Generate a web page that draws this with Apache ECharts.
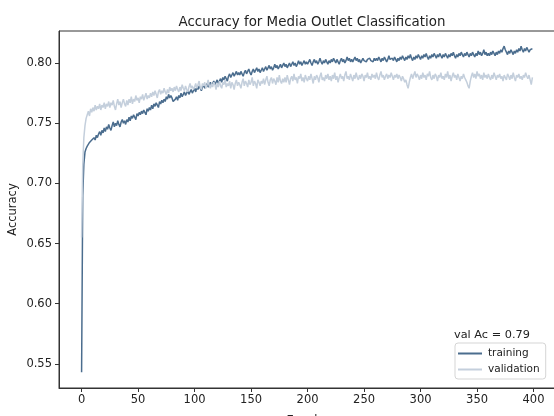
<!DOCTYPE html>
<html>
<head>
<meta charset="utf-8">
<script src="https://cdn.jsdelivr.net/npm/echarts@6/dist/echarts.min.js"></script>
<style>
  html, body { margin: 0; padding: 0; background: #fff; }
  #chart { width: 554px; height: 416px; }
</style>
</head>
<body>
<div id="chart"></div>
<script>
// accuracy per epoch (0..399)
const training = [
  0.543, 0.690, 0.716, 0.726, 0.729, 0.731, 0.730, 0.734, 0.733, 0.736, 0.735, 0.738, 0.736, 0.740, 0.738, 0.741, 0.743, 0.740, 0.744, 0.742,
  0.746, 0.743, 0.747, 0.745, 0.749, 0.746, 0.744, 0.748, 0.751, 0.747, 0.750, 0.748, 0.752, 0.749, 0.747, 0.751, 0.753, 0.750, 0.752, 0.749,
  0.753, 0.751, 0.755, 0.752, 0.756, 0.754, 0.757, 0.755, 0.753, 0.758, 0.756, 0.759, 0.757, 0.760, 0.758, 0.761, 0.759, 0.757, 0.762, 0.760,
  0.763, 0.761, 0.765, 0.762, 0.766, 0.764, 0.767, 0.765, 0.763, 0.768, 0.766, 0.769, 0.767, 0.770, 0.768, 0.772, 0.770, 0.774, 0.771, 0.773,
  0.771, 0.768, 0.767, 0.770, 0.772, 0.769, 0.773, 0.771, 0.775, 0.772, 0.774, 0.776, 0.773, 0.775, 0.777, 0.774, 0.776, 0.778, 0.775, 0.777,
  0.779, 0.776, 0.780, 0.778, 0.781, 0.779, 0.777, 0.780, 0.782, 0.779, 0.781, 0.783, 0.780, 0.782, 0.784, 0.781, 0.783, 0.785, 0.782, 0.784,
  0.786, 0.783, 0.785, 0.787, 0.784, 0.788, 0.786, 0.789, 0.787, 0.785, 0.789, 0.791, 0.788, 0.790, 0.792, 0.789, 0.791, 0.793, 0.790, 0.792,
  0.790, 0.793, 0.791, 0.789, 0.792, 0.794, 0.791, 0.793, 0.795, 0.792, 0.790, 0.793, 0.795, 0.792, 0.794, 0.796, 0.793, 0.795, 0.792, 0.794,
  0.796, 0.793, 0.795, 0.797, 0.794, 0.796, 0.798, 0.795, 0.797, 0.794, 0.796, 0.799, 0.796, 0.798, 0.795, 0.797, 0.799, 0.796, 0.798, 0.800,
  0.797, 0.799, 0.796, 0.798, 0.800, 0.797, 0.799, 0.801, 0.798, 0.800, 0.797, 0.799, 0.802, 0.799, 0.801, 0.798, 0.800, 0.802, 0.799, 0.801,
  0.799, 0.801, 0.803, 0.800, 0.798, 0.801, 0.803, 0.800, 0.802, 0.799, 0.801, 0.804, 0.801, 0.799, 0.802, 0.800, 0.803, 0.801, 0.799, 0.802,
  0.800, 0.803, 0.801, 0.804, 0.802, 0.800, 0.803, 0.801, 0.799, 0.802, 0.804, 0.801, 0.803, 0.800, 0.802, 0.805, 0.802, 0.804, 0.801, 0.803,
  0.801, 0.803, 0.805, 0.802, 0.804, 0.801, 0.803, 0.800, 0.802, 0.804, 0.802, 0.803, 0.801, 0.803, 0.802, 0.804, 0.802, 0.803, 0.801, 0.804,
  0.802, 0.804, 0.802, 0.805, 0.803, 0.801, 0.804, 0.802, 0.805, 0.803, 0.801, 0.803, 0.806, 0.803, 0.802, 0.804, 0.802, 0.805, 0.803, 0.801,
  0.804, 0.802, 0.805, 0.803, 0.806, 0.804, 0.802, 0.805, 0.803, 0.806, 0.804, 0.807, 0.804, 0.802, 0.805, 0.803, 0.806, 0.804, 0.807, 0.805,
  0.803, 0.806, 0.804, 0.807, 0.805, 0.808, 0.805, 0.803, 0.806, 0.804, 0.807, 0.805, 0.808, 0.806, 0.804, 0.807, 0.805, 0.808, 0.806, 0.804,
  0.807, 0.805, 0.808, 0.806, 0.804, 0.807, 0.805, 0.808, 0.806, 0.809, 0.806, 0.804, 0.807, 0.805, 0.808, 0.806, 0.809, 0.807, 0.805, 0.808,
  0.806, 0.809, 0.807, 0.805, 0.808, 0.806, 0.809, 0.807, 0.805, 0.808, 0.806, 0.810, 0.807, 0.809, 0.806, 0.808, 0.811, 0.807, 0.809, 0.806,
  0.808, 0.806, 0.809, 0.807, 0.810, 0.808, 0.806, 0.809, 0.807, 0.810, 0.808, 0.811, 0.809, 0.812, 0.814, 0.811, 0.809, 0.807, 0.810, 0.808,
  0.811, 0.809, 0.807, 0.810, 0.808, 0.811, 0.809, 0.812, 0.810, 0.814, 0.811, 0.809, 0.812, 0.810, 0.813, 0.811, 0.809, 0.811, 0.812, 0.812
]
const validation = [
  0.655, 0.715, 0.738, 0.748, 0.754, 0.757, 0.760, 0.756, 0.762, 0.759, 0.763, 0.760, 0.765, 0.761, 0.764, 0.762, 0.766, 0.761, 0.765, 0.763,
  0.767, 0.762, 0.766, 0.764, 0.768, 0.763, 0.767, 0.765, 0.769, 0.764, 0.761, 0.766, 0.770, 0.765, 0.768, 0.763, 0.767, 0.770, 0.766, 0.764,
  0.769, 0.765, 0.770, 0.767, 0.772, 0.766, 0.770, 0.768, 0.773, 0.769, 0.771, 0.767, 0.772, 0.770, 0.774, 0.769, 0.772, 0.775, 0.770, 0.773,
  0.771, 0.775, 0.772, 0.776, 0.773, 0.777, 0.774, 0.771, 0.776, 0.778, 0.774, 0.777, 0.775, 0.779, 0.776, 0.774, 0.778, 0.775, 0.780, 0.777,
  0.779, 0.776, 0.780, 0.777, 0.781, 0.778, 0.776, 0.780, 0.777, 0.782, 0.779, 0.777, 0.781, 0.778, 0.776, 0.780, 0.783, 0.779, 0.781, 0.778,
  0.780, 0.783, 0.779, 0.782, 0.785, 0.780, 0.778, 0.783, 0.781, 0.784, 0.779, 0.782, 0.786, 0.781, 0.779, 0.783, 0.780, 0.784, 0.782, 0.778,
  0.783, 0.780, 0.785, 0.781, 0.779, 0.784, 0.782, 0.786, 0.780, 0.783, 0.781, 0.785, 0.779, 0.784, 0.782, 0.778, 0.783, 0.786, 0.781, 0.784,
  0.782, 0.779, 0.784, 0.787, 0.781, 0.785, 0.783, 0.780, 0.786, 0.782, 0.784, 0.788, 0.781, 0.785, 0.783, 0.779, 0.786, 0.784, 0.781, 0.785,
  0.783, 0.787, 0.782, 0.786, 0.789, 0.784, 0.781, 0.786, 0.788, 0.783, 0.787, 0.785, 0.782, 0.788, 0.784, 0.790, 0.785, 0.783, 0.787, 0.784,
  0.788, 0.784, 0.790, 0.786, 0.782, 0.787, 0.789, 0.785, 0.791, 0.786, 0.788, 0.783, 0.789, 0.787, 0.791, 0.785, 0.788, 0.784, 0.790, 0.787,
  0.785, 0.789, 0.786, 0.791, 0.787, 0.783, 0.789, 0.786, 0.790, 0.788, 0.784, 0.789, 0.792, 0.786, 0.788, 0.785, 0.790, 0.787, 0.791, 0.786,
  0.789, 0.785, 0.790, 0.787, 0.792, 0.786, 0.789, 0.784, 0.788, 0.791, 0.787, 0.789, 0.785, 0.790, 0.793, 0.787, 0.789, 0.786, 0.791, 0.788,
  0.785, 0.790, 0.787, 0.792, 0.788, 0.786, 0.790, 0.787, 0.791, 0.789, 0.785, 0.790, 0.788, 0.792, 0.787, 0.789, 0.786, 0.791, 0.788, 0.790,
  0.787, 0.792, 0.788, 0.786, 0.790, 0.793, 0.788, 0.790, 0.786, 0.789, 0.791, 0.787, 0.790, 0.788, 0.792, 0.789, 0.786, 0.790, 0.788, 0.791,
  0.787, 0.790, 0.788, 0.785, 0.789, 0.787, 0.784, 0.786, 0.782, 0.779, 0.784, 0.788, 0.791, 0.787, 0.790, 0.793, 0.788, 0.791, 0.789, 0.786,
  0.790, 0.787, 0.792, 0.788, 0.790, 0.786, 0.791, 0.789, 0.793, 0.788, 0.786, 0.790, 0.787, 0.791, 0.789, 0.785, 0.790, 0.788, 0.792, 0.787,
  0.789, 0.786, 0.791, 0.788, 0.793, 0.787, 0.790, 0.785, 0.789, 0.792, 0.788, 0.790, 0.786, 0.791, 0.788, 0.785, 0.789, 0.787, 0.791, 0.788,
  0.786, 0.784, 0.781, 0.779, 0.785, 0.789, 0.792, 0.788, 0.791, 0.787, 0.793, 0.789, 0.791, 0.787, 0.790, 0.786, 0.792, 0.788, 0.790, 0.787,
  0.791, 0.788, 0.786, 0.790, 0.787, 0.792, 0.789, 0.786, 0.790, 0.788, 0.791, 0.787, 0.789, 0.785, 0.790, 0.788, 0.786, 0.791, 0.789, 0.786,
  0.790, 0.787, 0.792, 0.788, 0.785, 0.790, 0.788, 0.791, 0.787, 0.789, 0.786, 0.790, 0.788, 0.792, 0.789, 0.787, 0.790, 0.786, 0.782, 0.788
]
const xTicks = [0, 50, 100, 150, 200, 250, 300, 350, 400]
const yTicks = [0.55, 0.60, 0.65, 0.70, 0.75, 0.80]
const legendTitle = 'val Ac = 0.79'

const font = 'DejaVu Sans'
const toPairs = arr => arr.map((v, i) => [i, v])

let chart = echarts.init(document.getElementById('chart'))
chart.setOption({
    animation: false,
    title: {
        text: 'Accuracy for Media Outlet Classification',
        left: 307,
        textAlign: 'center',
        top: 11,
        textStyle: { fontFamily: font, fontSize: 13.4, fontWeight: 'normal', color: '#222' }
    },
    grid: {
        left: 59,
        top: 31,
        width: 496,
        height: 357,
        outerBoundsMode: 'none',
        containLabel: false,
        show: true,
        borderColor: '#333',
        borderWidth: 1,
        backgroundColor: '#fff'
    },
    legend: {
        data: ['training', 'validation'],
        orient: 'vertical',
        left: 455,
        top: 343,
        padding: [5, 6, 4, 3],
        itemGap: 5,
        itemWidth: 24,
        itemHeight: 2,
        icon: 'rect',
        borderColor: '#d5d5d5',
        borderWidth: 1,
        borderRadius: 3,
        backgroundColor: '#fff',
        textStyle: { fontFamily: font, fontSize: 10.5, color: '#222', padding: [0, 0, 0, 1] }
    },
    graphic: [{
        type: 'text',
        left: 454,
        top: 330,
        style: { text: legendTitle, fontFamily: font, fontSize: 11.3, fill: '#222' }
    }],
    xAxis: {
        type: 'value',
        min: -20,
        max: 419,
        name: 'Epochs',
        nameLocation: 'middle',
        nameGap: 27,
        nameMoveOverlap: false,
        nameTextStyle: { fontFamily: font, fontSize: 11.5, color: '#222' },
        splitLine: { show: false },
        axisLine: { show: true, onZero: false, lineStyle: { color: '#333' } },
        axisTick: { show: true, length: 4, customValues: xTicks, lineStyle: { color: '#333' } },
        axisLabel: { customValues: xTicks, fontFamily: font, fontSize: 11.5, color: '#222', margin: 6 }
    },
    yAxis: {
        type: 'value',
        min: 0.53,
        max: 0.8266,
        name: 'Accuracy',
        nameLocation: 'middle',
        nameGap: 40,
        nameMoveOverlap: false,
        nameTextStyle: { fontFamily: font, fontSize: 11.5, color: '#222' },
        splitLine: { show: false },
        axisLine: { show: true, onZero: false, lineStyle: { color: '#333' } },
        axisTick: { show: true, length: 4, customValues: yTicks, lineStyle: { color: '#333' } },
        axisLabel: {
            customValues: yTicks,
            fontFamily: font,
            fontSize: 11.5,
            color: '#222',
            margin: 7,
            formatter: v => v.toFixed(2)
        }
    },
    series: [
        {
            name: 'training',
            type: 'line',
            showSymbol: false,
            color: '#4b6d8e',
            lineStyle: { width: 1.5, color: '#4b6d8e' },
            data: toPairs(training)
        },
        {
            name: 'validation',
            type: 'line',
            showSymbol: false,
            color: '#c4cfdc',
            lineStyle: { width: 1.5, color: '#c4cfdc' },
            data: toPairs(validation)
        }
    ]
})
</script>
</body>
</html>
